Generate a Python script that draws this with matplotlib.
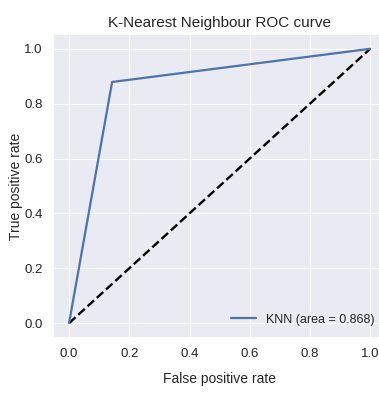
import numpy as np
import matplotlib
matplotlib.use("Agg")
import matplotlib.pyplot as plt

plt.style.use("seaborn-v0_8-darkgrid")
plt.rcParams['font.family'] = ['Liberation Sans', 'DejaVu Sans']

# roc points
fpr = [0.0, 0.143, 1.0]
tpr = [0.0, 0.879, 1.0]
auc_knn = 0.868

fig = plt.figure(figsize=(3.79, 3.94), dpi=100)
ax = fig.add_axes([0.1425, 0.145, 0.874, 0.766])

ax.plot([0, 1], [0, 1], 'k--', lw=1.7)
ax.plot(fpr, tpr, color='#4C72B0', lw=1.6, label='KNN (area = {:.3f})'.format(auc_knn))

ax.set_xlabel('False positive rate', fontsize=10, labelpad=9)
ax.set_ylabel('True positive rate', fontsize=10, labelpad=1)
ax.set_title('K-Nearest Neighbour ROC curve', fontsize=11)
ax.tick_params(labelsize=9.5, pad=8)
ax.legend(loc='lower right', fontsize=9)

fig.savefig("out.png", dpi=100)
